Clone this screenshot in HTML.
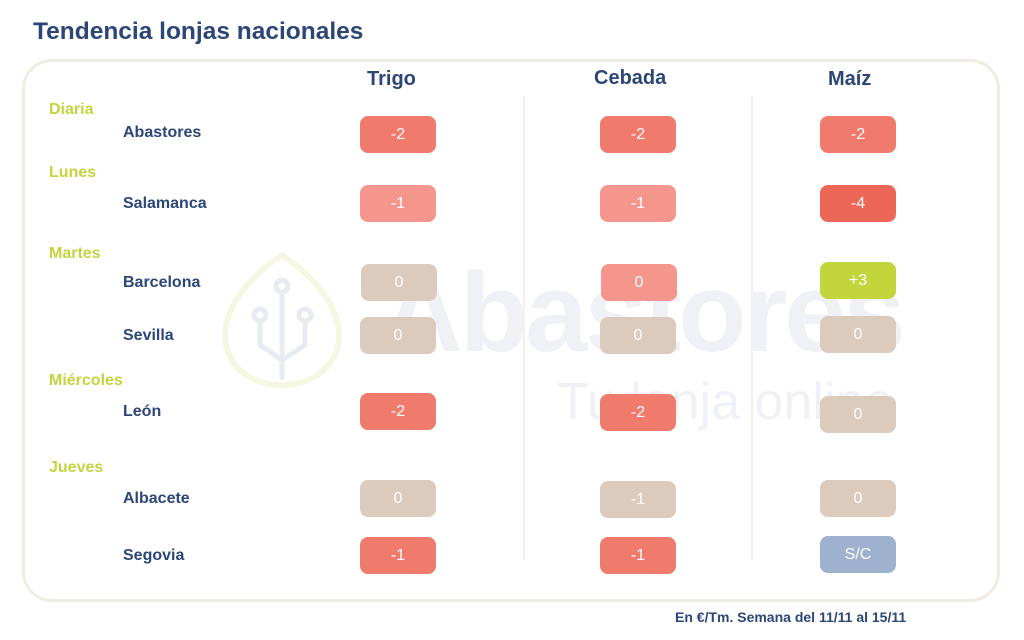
<!DOCTYPE html>
<html><head><meta charset="utf-8"><style>
body{margin:0;width:1024px;height:640px;background:#fff;font-family:"Liberation Sans",sans-serif;position:relative;overflow:hidden}
.a{position:absolute}
.t{color:#2c4678;font-weight:bold}
.d{color:#c3d43e;font-size:16px;font-weight:bold;left:49px}
.c{color:#2c4678;font-size:16px;font-weight:bold;left:123px}
.b{position:absolute;width:76px;height:37px;border-radius:8px;color:#fff;font-size:16px;text-align:center;line-height:37px}
.r{background:#f07a6c}.l{background:#f4968b}.k{background:#ec6757}.g{background:#dccabd}.gr{background:#c2d63c}.bl{background:#9eb1cf}
</style></head><body>
<div class="a t" style="left:33px;top:18px;font-size:24.5px">Tendencia lonjas nacionales</div>
<div class="a" style="left:22px;top:59px;width:972px;height:537px;border:3px solid #f0ece2;border-radius:30px"></div>
<div class="a" style="left:523px;top:96px;width:2px;height:464px;background:#f3f0ea"></div>
<div class="a" style="left:751px;top:96px;width:2px;height:464px;background:#f3f0ea"></div>
<svg class="a" style="left:215px;top:250px" width="135" height="140"><path d="M67 5 C30 30 10 60 10 85 C10 115 35 135 67 135 C99 135 124 115 124 85 C124 60 104 30 67 5Z" fill="none" stroke="#f5f7e3" stroke-width="6"/><g stroke="#e8ebf2" stroke-width="5" fill="none"><path d="M67 40 V130 M45 70 V95 L67 110 M90 70 V95 L67 110"/><circle cx="67" cy="36" r="6"/><circle cx="45" cy="65" r="6"/><circle cx="90" cy="65" r="6"/></g></svg>
<div class="a" style="left:382px;top:258px;font-size:112px;font-weight:bold;color:#eff1f6;letter-spacing:-3px;line-height:110px">Abastores</div>
<div class="a" style="left:557px;top:372px;font-size:52px;color:#eff1f6;line-height:60px">Tu lonja online</div>
<div class="a t" style="left:367px;top:68px;font-size:20px">Trigo</div>
<div class="a t" style="left:594px;top:67px;font-size:20px">Cebada</div>
<div class="a t" style="left:828px;top:68px;font-size:20px">Maíz</div>
<div class="a d" style="top:101px">Diaria</div>
<div class="a c" style="top:124px">Abastores</div>
<div class="a d" style="top:164px">Lunes</div>
<div class="a c" style="top:195px">Salamanca</div>
<div class="a d" style="top:245px">Martes</div>
<div class="a c" style="top:274px">Barcelona</div>
<div class="a c" style="top:327px">Sevilla</div>
<div class="a d" style="top:372px">Miércoles</div>
<div class="a c" style="top:403px">León</div>
<div class="a d" style="top:459px">Jueves</div>
<div class="a c" style="top:490px">Albacete</div>
<div class="a c" style="top:547px">Segovia</div>

<div class="b r" style="left:360px;top:116px">-2</div>
<div class="b r" style="left:600px;top:116px">-2</div>
<div class="b r" style="left:820px;top:116px">-2</div>
<div class="b l" style="left:360px;top:185px">-1</div>
<div class="b l" style="left:600px;top:185px">-1</div>
<div class="b k" style="left:820px;top:185px">-4</div>
<div class="b g" style="left:361px;top:264px">0</div>
<div class="b l" style="left:601px;top:264px">0</div>
<div class="b gr" style="left:820px;top:262px">+3</div>
<div class="b g" style="left:360px;top:317px">0</div>
<div class="b g" style="left:600px;top:317px">0</div>
<div class="b g" style="left:820px;top:316px">0</div>
<div class="b r" style="left:360px;top:393px">-2</div>
<div class="b r" style="left:600px;top:394px">-2</div>
<div class="b g" style="left:820px;top:396px">0</div>
<div class="b g" style="left:360px;top:480px">0</div>
<div class="b g" style="left:600px;top:481px">-1</div>
<div class="b g" style="left:820px;top:480px">0</div>
<div class="b r" style="left:360px;top:537px">-1</div>
<div class="b r" style="left:600px;top:537px">-1</div>
<div class="b bl" style="left:820px;top:536px">S/C</div>
<div class="a t" style="left:675px;top:609px;font-size:14px">En €/Tm. Semana del 11/11 al 15/11</div>
</body></html>
